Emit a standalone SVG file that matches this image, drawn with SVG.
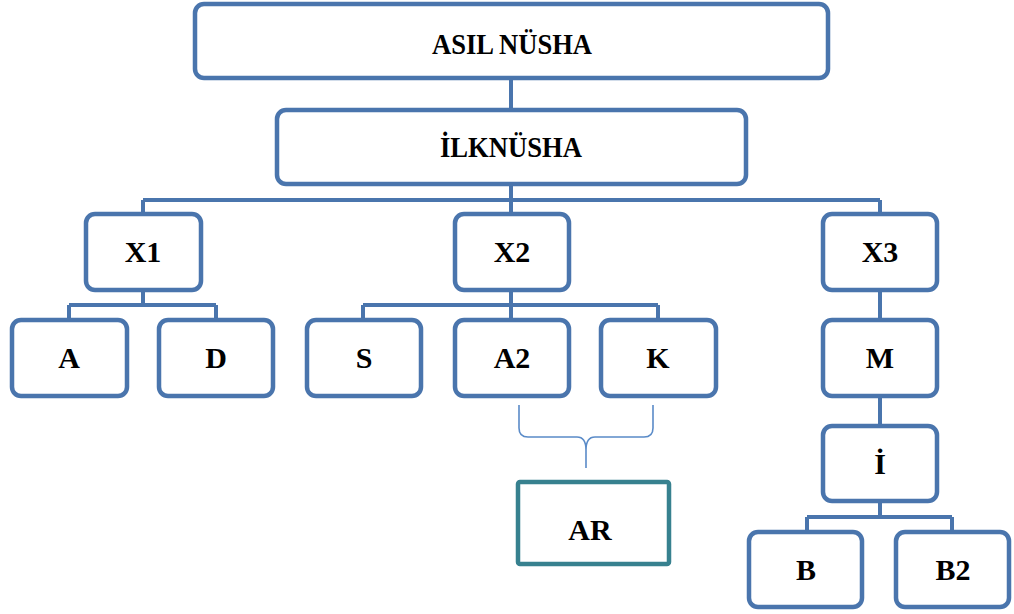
<svg xmlns="http://www.w3.org/2000/svg" width="1014" height="614" viewBox="0 0 1014 614">
<style>
.box{fill:#fff;stroke:#4a75ad;stroke-width:4.5}
.ar{fill:#fff;stroke:#37818f;stroke-width:4.5}
.ln{fill:none;stroke:#4a75ad;stroke-width:4}
.br{fill:none;stroke:#5a8bc8;stroke-width:1.6}
text{font-family:"Liberation Serif","Times New Roman",serif;font-weight:bold;fill:#000;text-anchor:middle}
.t1{font-size:30px}
.t2{font-size:30px}
</style>
<rect width="1014" height="614" fill="#fff"/>
<g id="connectors">
<path class="ln" d="M511 79V110M511 184V200M143 200H880M143 200V214M511 200V214M880 200V214"/>
<path class="ln" d="M143 290V305M69 305H216M69 305V320M216 305V320"/>
<path class="ln" d="M511 290V305M363 305H658M363 305V320M511 305V320M658 305V320"/>
<path class="ln" d="M880 290V320M880 396V427M880 501V517M807 517H952M807 517V532M952 517V532"/>
<path class="br" d="M519 405V428Q519 437 528 437H577Q586 437 586 450V468Q586 450 586 450Q586 437 595 437H644Q653 437 653 428V405"/>
</g>
<g id="asil"><rect class="box" x="195" y="4" width="633" height="74" rx="9"/><text class="t1" x="512" y="54" textLength="160" lengthAdjust="spacingAndGlyphs">ASIL NÜSHA</text></g>
<g id="ilk"><rect class="box" x="277" y="110" width="469" height="74" rx="9"/><text class="t1" x="511" y="157" textLength="142" lengthAdjust="spacingAndGlyphs">İLKNÜSHA</text></g>
<g id="x1"><rect class="box" x="86" y="214" width="115" height="76" rx="9"/><text class="t2" x="143" y="262">X1</text></g>
<g id="x2"><rect class="box" x="455" y="214" width="114" height="76" rx="9"/><text class="t2" x="512" y="262">X2</text></g>
<g id="x3"><rect class="box" x="823" y="214" width="114" height="76" rx="9"/><text class="t2" x="880" y="262">X3</text></g>
<g id="a"><rect class="box" x="12" y="320" width="115" height="76" rx="9"/><text class="t2" x="69" y="368">A</text></g>
<g id="d"><rect class="box" x="159" y="320" width="114" height="76" rx="9"/><text class="t2" x="216" y="368">D</text></g>
<g id="s"><rect class="box" x="307" y="320" width="114" height="76" rx="9"/><text class="t2" x="364" y="368">S</text></g>
<g id="a2"><rect class="box" x="455" y="320" width="114" height="76" rx="9"/><text class="t2" x="512" y="368">A2</text></g>
<g id="k"><rect class="box" x="601" y="320" width="115" height="76" rx="9"/><text class="t2" x="658" y="368">K</text></g>
<g id="m"><rect class="box" x="823" y="320" width="114" height="76" rx="9"/><text class="t2" x="880" y="368">M</text></g>
<g id="i"><rect class="box" x="823" y="426" width="114" height="75" rx="9"/><text class="t2" x="880" y="474">İ</text></g>
<g id="b"><rect class="box" x="749" y="532" width="113" height="75" rx="9"/><text class="t2" x="806" y="580">B</text></g>
<g id="b2"><rect class="box" x="896" y="532" width="113" height="75" rx="9"/><text class="t2" x="953" y="580">B2</text></g>
<g id="ar"><rect class="ar" x="518" y="482" width="151" height="82" rx="2"/><text class="t2" x="590" y="540">AR</text></g>
</svg>
